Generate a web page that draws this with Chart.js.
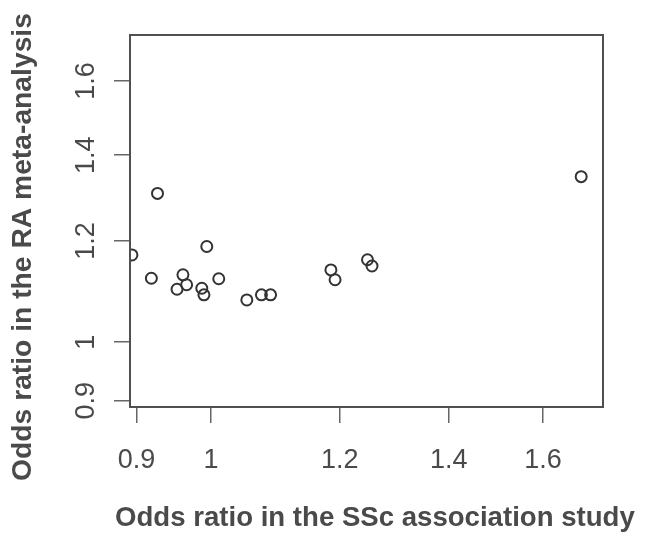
<!DOCTYPE html>
<html lang="en">
<head>
    <meta charset="UTF-8">
    <title>Odds ratio: SSc association study vs RA meta-analysis</title>
    <style>
        body {
            margin: 0;
            padding: 0;
            background: #fff;
            overflow: hidden;
        }

        .chart-box {
            width: 646px;
            height: 541px;
        }
    </style>
</head>
<body>

    <div class="chart-box">
        <canvas id="orChart"></canvas>
    </div>

    <script src="https://cdn.jsdelivr.net/npm/chart.js"></script>
    <script>
        // Odds ratios (one entry per SNP)
        const sscOddsRatio = [0.894, 0.927, 0.919, 0.961, 0.966, 0.953, 0.987, 0.990, 0.994,
                              1.011, 1.052, 1.074, 1.088, 1.185, 1.192, 1.248, 1.256, 1.689];
        const raOddsRatio = [1.170, 1.307, 1.122, 1.129, 1.109, 1.100, 1.102, 1.089, 1.188,
                             1.121, 1.079, 1.089, 1.089, 1.139, 1.119, 1.160, 1.147, 1.347];

        const xTickValues = [0.9, 1, 1.2, 1.4, 1.6];
        const xTickLabels = ['0.9', '1', '1.2', '1.4', '1.6'];
        const yTickValues = [0.9, 1, 1.2, 1.4, 1.6];
        const yTickLabels = ['0.9', '1', '1.2', '1.4', '1.6'];

        const xTitle = 'Odds ratio in the SSc association study';
        const yTitle = 'Odds ratio in the RA meta-analysis';

        const textColor = '#4a4a4a';
        const fontFamily = '"Liberation Sans", Arial, sans-serif';

        const points = sscOddsRatio.map((x, i) => ({ x: x, y: raOddsRatio[i] }));

        // fit a bold label to a given length (the figure's titles are a bit stretched)
        function fitFont(ctx, text, length) {
            ctx.font = 'bold 100px ' + fontFamily;
            const size = 100 * length / ctx.measureText(text).width;
            ctx.font = 'bold ' + size.toFixed(2) + 'px ' + fontFamily;
        }

        // box around the plot region + axis titles, R style
        const framePlugin = {
            id: 'frame',
            afterDraw(chart) {
                const { ctx, chartArea } = chart;
                ctx.save();
                ctx.strokeStyle = '#505050';
                ctx.lineWidth = 2;
                ctx.strokeRect(chartArea.left, chartArea.top,
                    chartArea.right - chartArea.left, chartArea.bottom - chartArea.top);

                ctx.fillStyle = textColor;
                ctx.textBaseline = 'middle';

                // x title
                ctx.textAlign = 'left';
                fitFont(ctx, xTitle, 520);
                ctx.fillText(xTitle, 115, 518);

                // y title, reads bottom to top
                ctx.translate(23, 247);
                ctx.rotate(-Math.PI / 2);
                ctx.textAlign = 'center';
                fitFont(ctx, yTitle, 468);
                ctx.fillText(yTitle, 0, 0);
                ctx.restore();
            }
        };

        const ctx = document.getElementById('orChart').getContext('2d');

        new Chart(ctx, {
            type: 'scatter',
            data: {
                datasets: [{
                    data: points,
                    pointStyle: 'circle',
                    pointRadius: 5.5,
                    pointHoverRadius: 5.5,
                    pointBorderWidth: 2,
                    pointBorderColor: '#333',
                    pointBackgroundColor: 'rgba(0,0,0,0)',
                    clip: 0
                }]
            },
            options: {
                responsive: true,
                maintainAspectRatio: false,
                animation: false,
                layout: {
                    padding: { top: 35, right: 43, left: 0, bottom: 0 }
                },
                plugins: {
                    legend: { display: false },
                    tooltip: { enabled: false }
                },
                scales: {
                    x: {
                        type: 'logarithmic',
                        min: 0.8916,
                        max: 1.742,
                        afterBuildTicks: function(scale) {
                            scale.ticks = xTickValues.map(v => ({ value: v }));
                        },
                        afterFit: function(scale) {
                            scale.height = 134;
                        },
                        border: { display: false },
                        grid: {
                            drawOnChartArea: false,
                            drawTicks: true,
                            tickLength: 16,
                            tickColor: '#666',
                            lineWidth: 1.5
                        },
                        ticks: {
                            autoSkip: false,
                            maxRotation: 0,
                            padding: 21,
                            color: textColor,
                            font: { family: fontFamily, size: 27 },
                            callback: function(value, index) {
                                return xTickLabels[index];
                            }
                        }
                    },
                    y: {
                        type: 'logarithmic',
                        min: 0.890,
                        max: 1.738,
                        afterBuildTicks: function(scale) {
                            scale.ticks = yTickValues.map(v => ({ value: v }));
                        },
                        afterFit: function(scale) {
                            scale.width = 130;
                        },
                        border: { display: false },
                        grid: {
                            drawOnChartArea: false,
                            drawTicks: true,
                            tickLength: 16,
                            tickColor: '#666',
                            lineWidth: 1.5
                        },
                        ticks: {
                            autoSkip: false,
                            minRotation: 90,
                            maxRotation: 90,
                            crossAlign: 'center',
                            padding: 9,
                            color: textColor,
                            font: { family: fontFamily, size: 27 },
                            callback: function(value, index) {
                                return yTickLabels[index];
                            }
                        }
                    }
                }
            },
            plugins: [framePlugin]
        });
    </script>

</body>
</html>
